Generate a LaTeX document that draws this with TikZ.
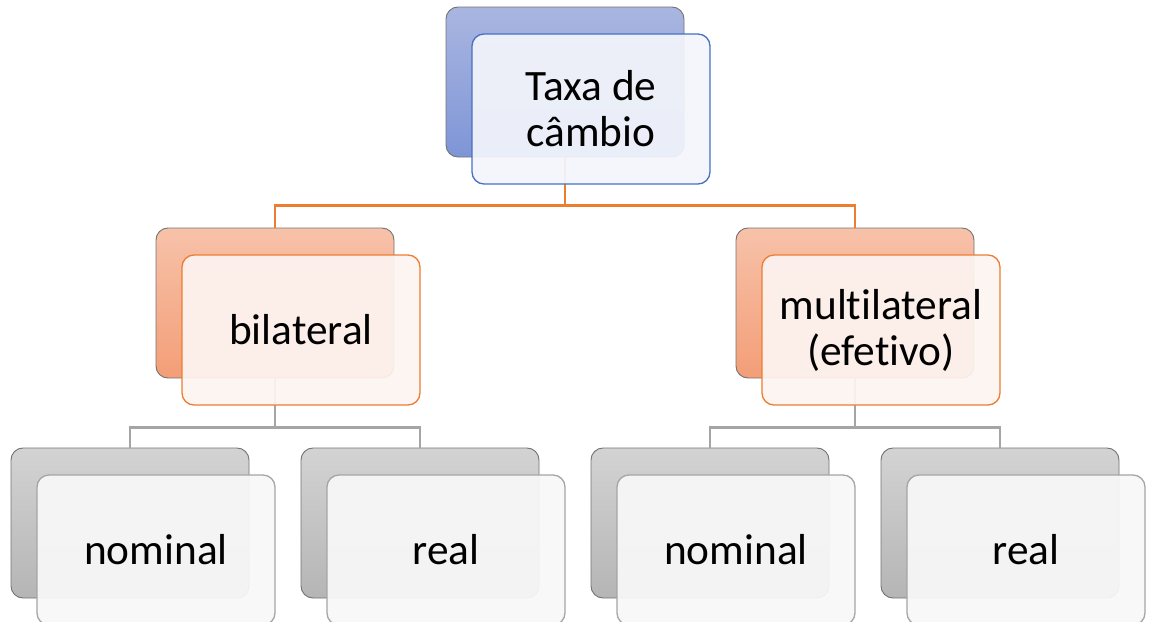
\documentclass[tikz,border=0pt]{standalone}
\usepackage{fontspec}
\setmainfont{Carlito}[Ligatures=NoCommon]
\definecolor{bluetop}{HTML}{AAB6E1}
\definecolor{bluebot}{HTML}{7E95D6}
\definecolor{blueline}{HTML}{4472C4}
\definecolor{bluefill}{HTML}{F3F5FB}
\definecolor{orantop}{HTML}{F7C2AA}
\definecolor{oranbot}{HTML}{F39E77}
\definecolor{oranline}{HTML}{ED7D31}
\definecolor{oranfill}{HTML}{FDF4F1}
\definecolor{graytop}{HTML}{D3D3D3}
\definecolor{graybot}{HTML}{B5B5B5}
\definecolor{grayline}{HTML}{A5A5A5}
\definecolor{grayfill}{HTML}{F8F8F8}
\begin{document}
\begin{tikzpicture}[x=0.75pt,y=-0.75pt,
	back/.style={draw=black!55,line width=0.7pt,rounded corners=9pt,minimum width=178.5pt,minimum height=112.5pt,inner sep=0pt},
	front/.style={draw,line width=1pt,rounded corners=9pt,fill opacity=0.93,text opacity=1,minimum width=178.5pt,minimum height=112.5pt,inner sep=0pt,align=center,font=\fontsize{32.5}{34.5}\selectfont,xshift=19.5pt,yshift=-20.25pt},
	bluebox/.style={back,top color=bluetop,bottom color=bluebot},
	oranbox/.style={back,top color=orantop,bottom color=oranbot},
	graybox/.style={back,top color=graytop,bottom color=graybot},
	link/.style={line width=1.9pt}]
	\useasboundingbox (0,0) rectangle (1149,621);
	% back boxes
	\node[bluebox] (cb) at (565,82) {};
	\node[oranbox] (bb) at (275,303) {};
	\node[oranbox] (mb) at (855,303) {};
	\node[graybox] (bnb) at (130,523) {};
	\node[graybox] (brb) at (420,523) {};
	\node[graybox] (mnb) at (710,523) {};
	\node[graybox] (mrb) at (1000,523) {};
	% connectors
	\draw[link,oranline] (cb.south) -- ++(0,48) -| (bb.north);
	\draw[link,oranline] (cb.south) -- ++(0,48) -| (mb.north);
	\draw[link,grayline] (bb.south) -- ++(0,49) -| (bnb.north);
	\draw[link,grayline] (bb.south) -- ++(0,49) -| (brb.north);
	\draw[link,grayline] (mb.south) -- ++(0,49) -| (mnb.north);
	\draw[link,grayline] (mb.south) -- ++(0,49) -| (mrb.north);
	% front boxes
	\node[front,draw=blueline,fill=bluefill] (c) at (cb) {Taxa de\\câmbio};
	\node[front,draw=oranline,fill=oranfill] (b) at (bb) {bilateral};
	\node[front,draw=oranline,fill=oranfill] (m) at (mb) {multilateral\\(efetivo)};
	\node[front,draw=grayline,fill=grayfill] (bn) at (bnb) {nominal};
	\node[front,draw=grayline,fill=grayfill] (br) at (brb) {real};
	\node[front,draw=grayline,fill=grayfill] (mn) at (mnb) {nominal};
	\node[front,draw=grayline,fill=grayfill] (mr) at (mrb) {real};
\end{tikzpicture}
\end{document}
